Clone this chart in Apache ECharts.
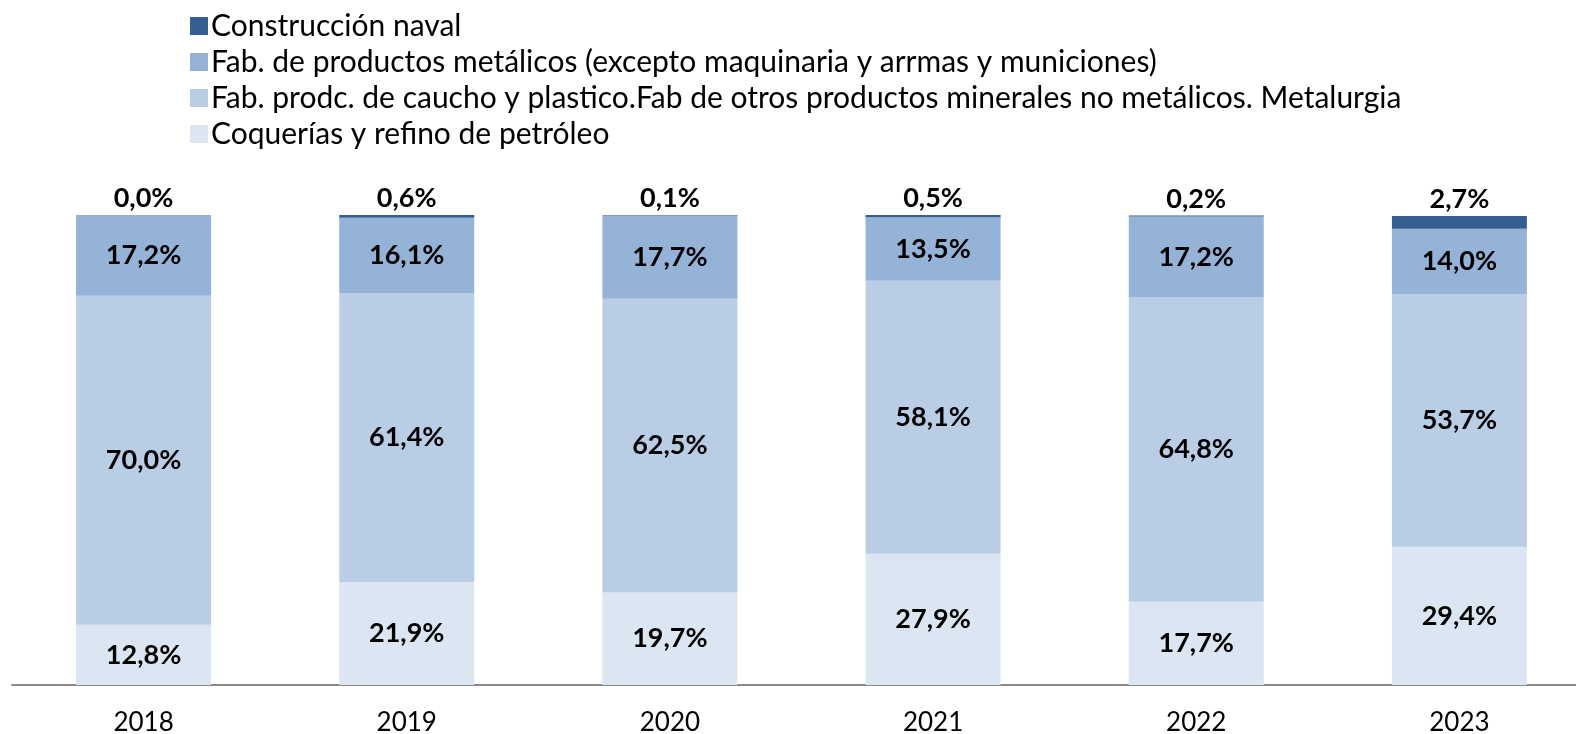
<!DOCTYPE html>
<html>
<head>
<meta charset="utf-8">
<script src="https://cdn.jsdelivr.net/npm/echarts@6/dist/echarts.min.js"></script>
<style>
  html, body { margin: 0; padding: 0; background: #fff; }
  #chart { width: 1576px; height: 734px; }
</style>
</head>
<body>
<div id="chart"></div>
<script>
const years = ['2018', '2019', '2020', '2021', '2022', '2023']

// % sobre el total, por año
const coquerias = [12.8, 21.9, 19.7, 27.9, 17.7, 29.4]
const caucho = [70.0, 61.4, 62.5, 58.1, 64.8, 53.7]
const metalicos = [17.2, 16.1, 17.7, 13.5, 17.2, 14.0]
const naval = [0.0, 0.6, 0.1, 0.5, 0.2, 2.7]

const names = [
  'Construcción naval',
  'Fab. de productos metálicos (excepto maquinaria y arrmas y municiones)',
  'Fab. prodc. de caucho y plastico.Fab de otros productos minerales no metálicos. Metalurgia',
  'Coquerías y refino de petróleo',
]

const chart = echarts.init(document.getElementById('chart'))

const fmt = (p) => p.value.toFixed(1).replace('.', ',') + '%'

const labelStyle = {
  show: true,
  position: 'inside',
  formatter: fmt,
  color: '#000',
  fontFamily: 'Lato',
  fontWeight: 'bold',
  fontSize: 27,
}

const makeSeries = (name, data, color, labelPos) => ({
  name,
  type: 'bar',
  stack: 'total',
  barWidth: 135,
  data,
  itemStyle: { color },
  label: Object.assign({}, labelStyle, labelPos || {}),
})

const option = {
  animation: false,
  backgroundColor: '#fff',
  legend: {
    orient: 'vertical',
    left: 185,
    top: 6,
    itemWidth: 18,
    itemHeight: 18,
    itemGap: 6,
    icon: 'rect',
    data: names,
    textStyle: {
      fontFamily: 'Lato',
      fontSize: 30,
      color: '#000',
      padding: [0, 0, 0, -2],
    },
  },
  grid: {
    left: 12,
    top: 215,
    bottom: 49,
    right: -15,
    outerBoundsMode: 'none',
  },
  xAxis: {
    type: 'category',
    data: years,
    axisLine: { lineStyle: { color: '#898989', width: 2 } },
    axisTick: { show: false },
    axisLabel: {
      color: '#000',
      fontFamily: 'Lato',
      fontSize: 26,
      margin: 25,
    },
  },
  yAxis: {
    type: 'value',
    min: 0,
    max: 100,
    show: false,
    splitLine: { show: false },
  },
  series: [
    makeSeries(names[3], coquerias, '#DCE6F2'),
    makeSeries(names[2], caucho, '#B9CDE5'),
    makeSeries(names[1], metalicos, '#95B3D7'),
    makeSeries(names[0], naval, '#355F91', { position: 'top', distance: 3 }),
  ],
}

chart.setOption(option)
</script>
</body>
</html>
